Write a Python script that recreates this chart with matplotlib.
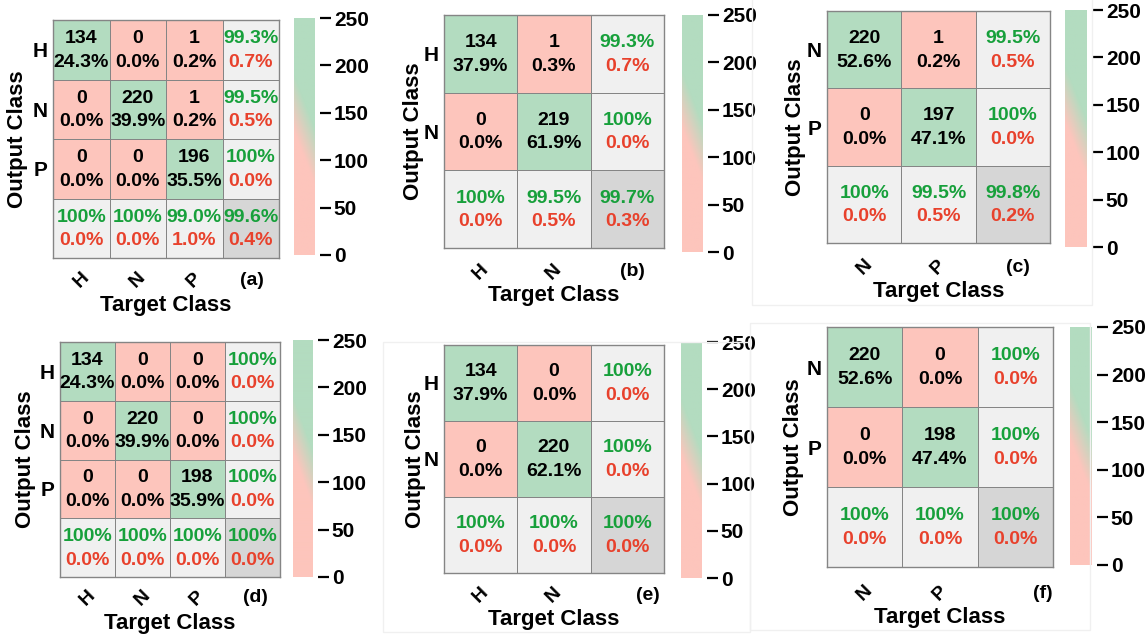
import numpy as np
import matplotlib.pyplot as plt
from matplotlib.colors import ListedColormap, LinearSegmentedColormap
from matplotlib.patches import Rectangle
from matplotlib.transforms import blended_transform_factory

plt.rcParams['font.family'] = ['Liberation Sans', 'DejaVu Sans']
plt.rcParams['font.weight'] = 'bold'

W, H = 1146, 638

# confusion counts: rows = output class, columns = target class
cm_a = [[134, 0, 1], [0, 220, 1], [0, 0, 196]]
cm_b = [[134, 1], [0, 219]]
cm_c = [[220, 1], [0, 197]]
cm_d = [[134, 0, 0], [0, 220, 0], [0, 0, 198]]
cm_e = [[134, 0], [0, 220]]
cm_f = [[220, 0], [0, 198]]
classes_hnp = ['H', 'N', 'P']
classes_hn = ['H', 'N']
classes_np = ['N', 'P']
tags = ['(a)', '(b)', '(c)', '(d)', '(e)', '(f)']
cbar_ticks = [0, 50, 100, 150, 200, 250]

RED = '#fdc5bc'
GREEN = '#b3dcc0'
GRAY = '#f0f0f0'
DARK = '#d6d6d6'
EDGE = '#858585'
TXT_GREEN = '#17a03b'
TXT_RED = '#e8412c'
cell_cmap = ListedColormap([RED, GREEN, GRAY, DARK])
bar_cmap = LinearSegmentedColormap.from_list(
    'rg', [(0, RED), (130 / 305, RED), (190 / 305, GREEN), (1, GREEN)])

fig = plt.figure(figsize=(W / 100, H / 100), dpi=100)


def px(x):
    return x / W


def py(y):
    return 1 - y / H


def pct(v):
    return '100%' if round(v, 1) >= 100 else f'{v:.1f}%'


def two_lines(ax, x, y, top, bottom, c_top, c_bot):
    ax.annotate(top, (x, y), xytext=(0, 8), textcoords='offset points',
                ha='center', va='center', fontsize=14, color=c_top)
    ax.annotate(bottom, (x, y), xytext=(0, -9), textcoords='offset points',
                ha='center', va='center', fontsize=14, color=c_bot)


def panel(cm, labels, tag, grid, cbar, xlab_y, tag_x, target_y, output_x):
    cm = np.array(cm)
    n = len(cm)
    total = cm.sum()
    l, t, r, b = grid
    ax = fig.add_axes([px(l), py(b), px(r - l), (b - t) / H])

    codes = np.full((n + 1, n + 1), 2)
    codes[:n, :n] = 0
    codes[np.arange(n), np.arange(n)] = 1
    codes[n, n] = 3
    edges = np.arange(n + 2) - 0.5
    ax.pcolormesh(edges, edges, codes, cmap=cell_cmap, vmin=-0.5, vmax=3.5,
                  edgecolors=EDGE, linewidth=0.7)
    ax.set_xlim(-0.5, n + 0.5)
    ax.set_ylim(n + 0.5, -0.5)

    for i in range(n):
        for j in range(n):
            two_lines(ax, j, i, str(cm[i, j]), pct(100 * cm[i, j] / total),
                      'black', 'black')
        prec = 100 * cm[i, i] / cm[i].sum()
        two_lines(ax, n, i, pct(prec), pct(100 - prec), TXT_GREEN, TXT_RED)
    for j in range(n):
        rec = 100 * cm[j, j] / cm[:, j].sum()
        two_lines(ax, j, n, pct(rec), pct(100 - rec), TXT_GREEN, TXT_RED)
    acc = 100 * np.trace(cm) / total
    two_lines(ax, n, n, pct(acc), pct(100 - acc), TXT_GREEN, TXT_RED)

    for s in ax.spines.values():
        s.set_color(EDGE)
        s.set_linewidth(1.0)
    ax.set_yticks(range(n))
    ax.set_yticklabels(labels, fontsize=15)
    ax.tick_params(axis='y', length=0, pad=4)
    ax.set_xticks([])

    tr = blended_transform_factory(ax.transData, fig.transFigure)
    for j, lab in enumerate(labels):
        ax.text(j, py(xlab_y), lab, transform=tr, rotation=45,
                ha='center', va='center', fontsize=14)
    fig.text(px(tag_x), py(xlab_y), tag, ha='center', va='center', fontsize=14)
    fig.text(px((l + r) / 2), py(target_y), 'Target Class',
             ha='center', va='center', fontsize=16)
    fig.text(px(output_x), py((t + b) / 2), 'Output Class', rotation=90,
             ha='center', va='center', fontsize=16)

    # colour bar
    cl, ct, cr, cb = cbar
    cw = cr - cl
    cax = fig.add_axes([px(cl), py(cb), px(cw + 5), (cb - ct) / H])
    yy = np.linspace(0, 250, 200)
    xx = np.linspace(0, 1, 20)
    field = yy[:, None] + 55 * xx[None, :]
    cax.imshow(field, extent=[0, 1, 0, 250], origin='lower', aspect='auto',
               cmap=bar_cmap, vmin=0, vmax=305)
    cax.set_xlim(0, (cw + 5) / cw)
    cax.set_ylim(0, 250)
    for s in cax.spines.values():
        s.set_visible(False)
    cax.set_xticks([])
    cax.yaxis.tick_right()
    cax.set_yticks(cbar_ticks)
    cax.tick_params(axis='y', length=8, width=1.6, pad=2, labelsize=15)


panel(cm_a, classes_hnp, tags[0], (53, 20, 279, 258), (294, 18, 315, 255),
      280, 252, 305, 18)
panel(cm_b, classes_hn, tags[1], (444, 15, 664, 248), (682, 15, 703, 252),
      272, 632, 295, 413)
panel(cm_c, classes_np, tags[2], (827, 11, 1050, 243), (1065, 10, 1087, 247),
      267, 1018, 292, 795)
panel(cm_d, classes_hnp, tags[3], (60, 342, 280, 577), (293, 340, 313, 577),
      598, 255, 623, 25)
panel(cm_e, classes_hn, tags[4], (444, 345, 664, 573), (681, 342, 702, 578),
      595, 648, 620, 415)
panel(cm_f, classes_np, tags[5], (827, 327, 1053, 567), (1070, 327, 1092, 565),
      593, 1043, 617, 793)

# faint frames around the individual sub-figures
for x0, y0, x1, y1 in [(752, -2, 1092, 305), (383, 342, 750, 632),
                       (750, 323, 1090, 630)]:
    fig.add_artist(Rectangle((px(x0), py(y1)), px(x1 - x0), (y1 - y0) / H,
                             transform=fig.transFigure, fill=False,
                             edgecolor='#f0f0f0', linewidth=1))

fig.savefig('out.png', dpi=100)
